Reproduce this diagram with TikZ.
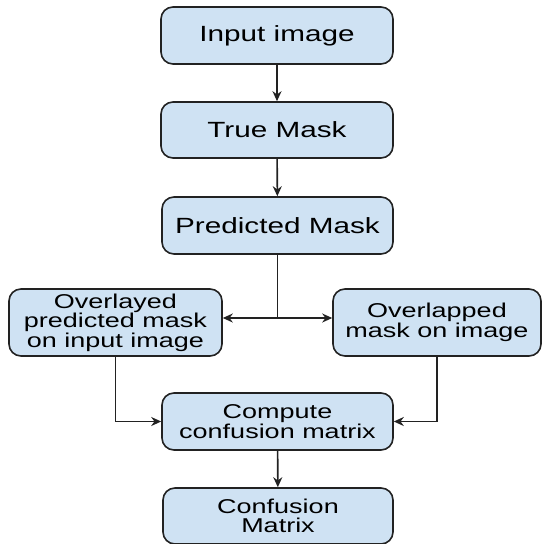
\documentclass[tikz,border=0pt]{standalone}
\usepackage{fontspec}
\setmainfont{Liberation Sans}
\newfontfamily\boxfont[FakeStretch=1.35]{Liberation Sans}
\usetikzlibrary{arrows.meta}
\definecolor{boxfill}{HTML}{CFE2F3}
\definecolor{boxline}{HTML}{222222}
\tikzset{
  x=1pt, y=-1pt,
  flowbox/.style={draw=boxline, fill=boxfill, line width=1.6pt, rounded corners=12pt,
    align=center, inner sep=0pt, font=\boxfont\fontsize{22}{22}\selectfont},
  twoline/.style={font=\boxfont\fontsize{20}{18.5}\selectfont},
  flow/.style={draw=boxline, line width=1.6pt, -{Stealth[length=10pt,width=9pt]}},
  plain/.style={draw=boxline, line width=1.6pt}
}
\begin{document}
\begin{tikzpicture}
\useasboundingbox (0,0) rectangle (542,544);
\fill[white] (0,0) rectangle (542,544);

\node[flowbox, minimum width=232pt, minimum height=57pt] (input) at (277,35.5) {Input image};
\node[flowbox, minimum width=232pt, minimum height=56pt] (truemask) at (277,130) {True Mask};
\node[flowbox, minimum width=231pt, minimum height=57pt] (pred) at (277.5,225.5) {Predicted Mask};
\node[flowbox, twoline, minimum width=213pt, minimum height=67pt] (overlay) at (115.5,322.5) {Overlayed\\predicted mask\\on input image};
\node[flowbox, twoline, minimum width=208pt, minimum height=67pt] (overlap) at (437,322.5) {Overlapped\\mask on image};
\node[flowbox, twoline, minimum width=231pt, minimum height=57pt] (compute) at (277.5,421.5) {Compute\\confusion matrix};
\node[flowbox, twoline, minimum width=230pt, minimum height=56pt] (cm) at (278,516) {Confusion\\Matrix};

\coordinate (split) at (277.5,318);

\draw[flow] (input) -- (truemask);
\draw[flow] (truemask) -- (pred);
\draw[plain] (pred.south) -- (split);
\draw[flow] (split) -- (split -| overlay.east);
\draw[flow] (split) -- (split -| overlap.west);
\draw[flow] (overlay.south) |- (compute.west);
\draw[flow] (overlap.south) |- (compute.east);
\draw[flow] (compute) -- (cm);
\end{tikzpicture}
\end{document}
